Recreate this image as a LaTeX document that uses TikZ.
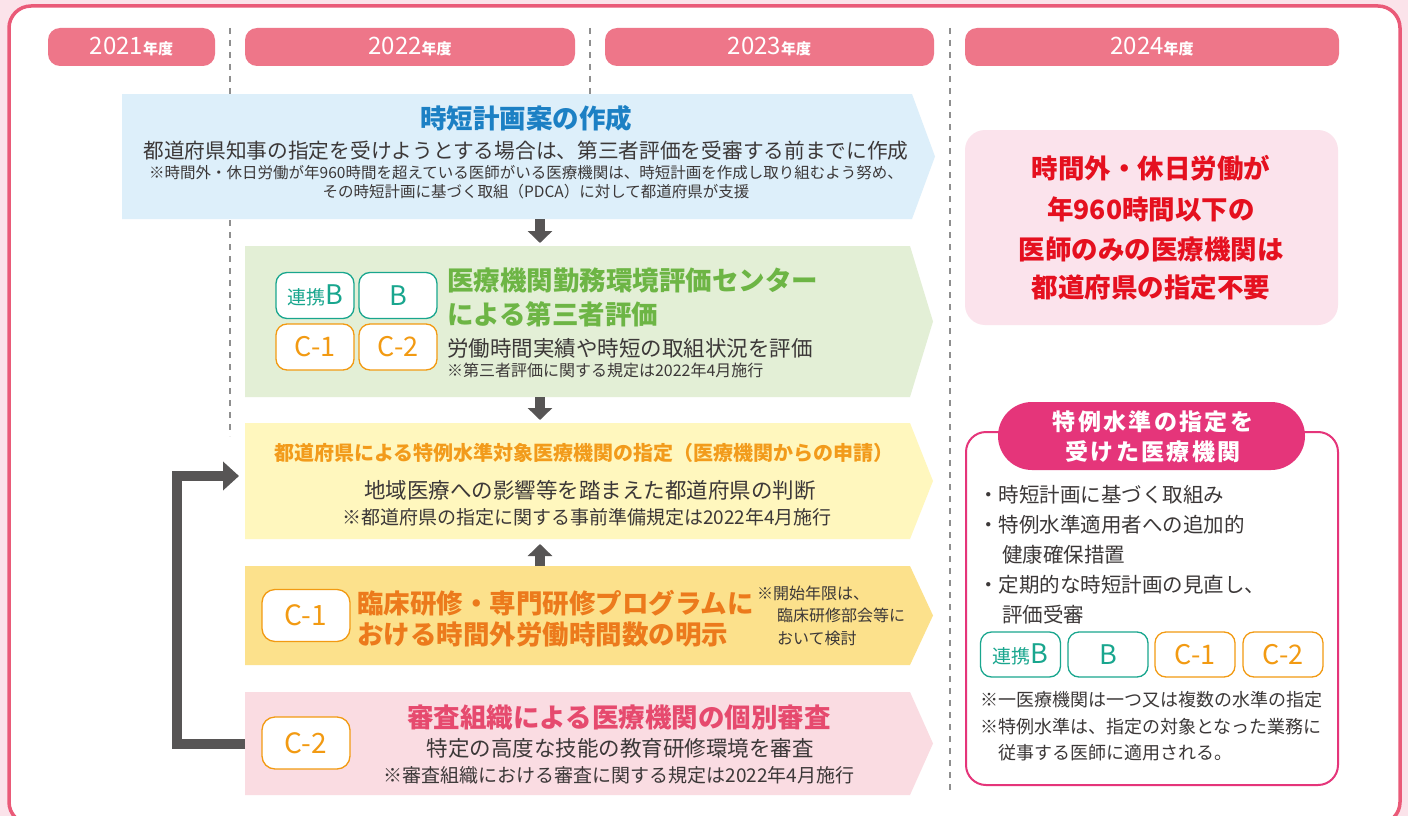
\documentclass[tikz,border=0pt]{standalone}
\usepackage{fontspec}
\setmainfont{Noto Sans CJK JP}
\usetikzlibrary{arrows.meta,calc}
\definecolor{bgpink}{HTML}{FBE3EA}
\definecolor{framepink}{HTML}{EA5A78}
\definecolor{hdrpink}{HTML}{EE7689}
\definecolor{dashgray}{HTML}{8F8F8F}
\definecolor{bluefill}{HTML}{DDEFFA}
\definecolor{bluetitle}{HTML}{1C80C4}
\definecolor{greenfill}{HTML}{E3EFD6}
\definecolor{greentitle}{HTML}{6DB545}
\definecolor{yellowfill}{HTML}{FFF7BE}
\definecolor{yellowtitle}{HTML}{F29B1B}
\definecolor{orangefill}{HTML}{FCE18C}
\definecolor{orangetitle}{HTML}{EC7A1C}
\definecolor{pinkfill}{HTML}{FADCE2}
\definecolor{pinktitle}{HTML}{E64A6E}
\definecolor{darktxt}{HTML}{3C3838}
\definecolor{tealc}{HTML}{19A68E}
\definecolor{orbadge}{HTML}{F29A12}
\definecolor{arrowgray}{HTML}{575555}
\definecolor{redtxt}{HTML}{E5101F}
\definecolor{rpinkfill}{HTML}{FBE3EC}
\definecolor{magentac}{HTML}{E5357A}
\newcommand\fs[1]{\fontsize{#1}{#1}\selectfont}
\newcommand\yr[1]{{\fs{24}#1}{\fs{15}\bfseries 年度}}
\tikzset{
  hdr/.style={fill=hdrpink, rounded corners=12pt, minimum height=38pt, text=white},
  dashline/.style={draw=dashgray, line width=1.5pt, dash pattern=on 6pt off 6pt},
  badge/.style={draw, fill=white, rounded corners=11pt, line width=1.3pt, minimum width=78pt, minimum height=46pt},
  tealbadge/.style={badge, draw=tealc, text=tealc},
  orbadge/.style={badge, draw=orbadge, text=orbadge},
  bigbadge/.style={orbadge, minimum width=88pt, minimum height=52pt, rounded corners=13pt},
  downarrow/.style={draw=arrowgray, line width=10pt, -{Triangle[width=24pt,length=12pt]}},
  larrow/.style={draw=arrowgray, line width=10pt, -{Triangle[width=28pt,length=16pt]}},
  dtxt/.style={text=darktxt},
}
\begin{document}
\begin{tikzpicture}[x=1pt,y=-1pt, every node/.style={inner sep=0pt, outer sep=0pt}]
\useasboundingbox (0,0) rectangle (1408,816);
\fill[bgpink] (0,0) rectangle (1408,816);
\draw[framepink, line width=3.5pt, fill=white, rounded corners=22pt] (9,6) rectangle (1400,824);

% dashed year separators
\draw[dashline] (230,28) -- (230,436);
\draw[dashline] (590,28) -- (590,95);
\draw[dashline] (950,28) -- (950,792);

% year headers
\node[hdr, minimum width=167pt] (h21) at (131.5,47) {\yr{2021}};
\node[hdr, minimum width=330pt] (h22) at (410,47) {\yr{2022}};
\node[hdr, minimum width=329pt] (h23) at (769.5,47) {\yr{2023}};
\node[hdr, minimum width=374pt] (h24) at (1152,47) {\yr{2024}};

% left column areas
\node[minimum width=790pt, minimum height=125pt] (blue) at (517,156.5) {};
\node[minimum width=665pt, minimum height=151pt] (green) at (577.5,321.5) {};
\node[minimum width=665pt, minimum height=116pt] (yellow) at (577.5,481) {};
\node[minimum width=665pt, minimum height=99pt] (orange) at (577.5,615.5) {};
\node[minimum width=665pt, minimum height=103pt] (pink) at (577.5,743.5) {};
\foreach \b/\c in {blue/bluefill, green/greenfill, yellow/yellowfill, orange/orangefill, pink/pinkfill}{
  \fill[\c] (\b.north west) -- (\b.north east) -- ($(\b.east)+(23,0)$) -- (\b.south east) -- (\b.south west) -- cycle;
}

% arrows
\coordinate (ax) at (540,0);
\draw[downarrow, shorten >=3pt] (blue.south -| ax) -- (green.north -| ax);
\draw[downarrow, shorten >=3pt] (green.south -| ax) -- (yellow.north -| ax);
\draw[downarrow, shorten >=5pt] (orange.north -| ax) -- (yellow.south -| ax);
\draw[larrow, shorten >=6pt] (pink.west) -- ++(-68,0) |- ([yshift=5pt]yellow.west);

% blue box text
\node[text=bluetitle, font=\fs{26.5}\bfseries] (bt1) at (526,118) {時短計画案の作成};
\node[dtxt, font=\fs{20.7}] (bt2) at (526,151) {都道府県知事の指定を受けようとする場合は、第三者評価を受審する前までに作成};
\node[dtxt, font=\fs{15.5}] (bt3) at (526,173) {※時間外・休日労働が年960時間を超えている医師がいる医療機関は、時短計画を作成し取り組むよう努め、};
\node[dtxt, font=\fs{15.5}] (bt4) at (536,192) {その時短計画に基づく取組（PDCA）に対して都道府県が支援};

% green box
\node[tealbadge] (gb1) at (315,295.5) {{\fs{19}連携}{\fs{27}B}};
\node[tealbadge] (gb2) at (398,295.5) {{\fs{27}B}};
\node[orbadge] (gb3) at (315,347) {{\fs{27}C-1}};
\node[orbadge] (gb4) at (398,347) {{\fs{27}C-2}};
\node[anchor=west, text=greentitle, font=\fs{26.5}\bfseries] (gt1) at (447,280) {医療機関勤務環境評価センター};
\node[anchor=west, text=greentitle, font=\fs{26.5}\bfseries] (gt2) at (447,314) {による第三者評価};
\node[anchor=west, dtxt, font=\fs{21.5}] (gt3) at (447,348) {労働時間実績や時短の取組状況を評価};
\node[anchor=west, dtxt, font=\fs{16}] (gt4) at (447,370) {※第三者評価に関する規定は2022年4月施行};

% yellow box
\node[text=yellowtitle, font=\fs{20}\bfseries] (yt1) at (584,453) {都道府県による特例水準対象医療機関の指定（医療機関からの申請）};
\node[dtxt, font=\fs{21.5}] (yt2) at (590,490) {地域医療への影響等を踏まえた都道府県の判断};
\node[dtxt, font=\fs{19}] (yt3) at (587,517) {※都道府県の指定に関する事前準備規定は2022年4月施行};

% orange box
\node[bigbadge] (ob) at (306,615.5) {{\fs{28}C-1}};
\node[anchor=west, text=orangetitle, font=\fs{26.5}\bfseries] (ot1) at (357,603) {臨床研修・専門研修プログラムに};
\node[anchor=west, text=orangetitle, font=\fs{26.5}\bfseries] (ot2) at (357,635) {おける時間外労働時間数の明示};
\node[anchor=west, dtxt, font=\fs{16}] (on1) at (757,593) {※開始年限は、};
\node[anchor=west, dtxt, font=\fs{16}] (on2) at (777,615) {臨床研修部会等に};
\node[anchor=west, dtxt, font=\fs{16}] (on3) at (777,638) {おいて検討};

% pink box
\node[bigbadge] (pb) at (306,743) {{\fs{28}C-2}};
\node[text=pinktitle, font=\fs{26.5}\bfseries] (pt1) at (619,718) {審査組織による医療機関の個別審査};
\node[dtxt, font=\fs{21.5}] (pt2) at (620,748) {特定の高度な技能の教育研修環境を審査};
\node[dtxt, font=\fs{19}] (pt3) at (619,775) {※審査組織における審査に関する規定は2022年4月施行};

% right: red note box
\node[fill=rpinkfill, rounded corners=20pt, minimum width=373pt, minimum height=195pt] (rbox) at (1151.5,227.5) {};
\node[text=redtxt, font=\fs{26.5}\bfseries] (r1) at (1151,168) {時間外・休日労働が};
\node[text=redtxt, font=\fs{26.5}\bfseries] (r2) at (1151,209) {年960時間以下の};
\node[text=redtxt, font=\fs{26.5}\bfseries] (r3) at (1151,249) {医師のみの医療機関は};
\node[text=redtxt, font=\fs{26.5}\bfseries] (r4) at (1151,288) {都道府県の指定不要};

% right: designated institutions box
\node[draw=magentac, line width=2pt, fill=white, rounded corners=20pt, minimum width=372pt, minimum height=353pt] (dbox) at (1152,608.5) {};
\node[fill=magentac, rounded corners=34pt, minimum width=307pt, minimum height=68pt] (pill) at (1151.5,436) {};
\node[text=white, font=\fs{23}\bfseries\addfontfeature{LetterSpace=10}] (pl1) at (1153,422) {特例水準の指定を};
\node[text=white, font=\fs{23}\bfseries\addfontfeature{LetterSpace=10}] (pl2) at (1153,452) {受けた医療機関};
\node[anchor=west, dtxt, font=\fs{20.5}] (d1) at (978,495) {・時短計画に基づく取組み};
\node[anchor=west, dtxt, font=\fs{20.5}] (d2) at (978,525) {・特例水準適用者への追加的};
\node[anchor=west, dtxt, font=\fs{20.5}] (d3) at (1002,555) {健康確保措置};
\node[anchor=west, dtxt, font=\fs{20.5}] (d4) at (978,585) {・定期的な時短計画の見直し、};
\node[anchor=west, dtxt, font=\fs{20.5}] (d5) at (1002,615) {評価受審};
\node[tealbadge, minimum width=80pt, minimum height=45pt] (db1) at (1020.5,654.5) {{\fs{19}連携}{\fs{27}B}};
\node[tealbadge, minimum width=80pt, minimum height=45pt] (db2) at (1108,654.5) {{\fs{27}B}};
\node[orbadge, minimum width=80pt, minimum height=45pt] (db3) at (1195,654.5) {{\fs{27}C-1}};
\node[orbadge, minimum width=80pt, minimum height=45pt] (db4) at (1283,654.5) {{\fs{27}C-2}};
\node[anchor=west, dtxt, font=\fs{18}] (n1) at (980,700) {※一医療機関は一つ又は複数の水準の指定};
\node[anchor=west, dtxt, font=\fs{18}] (n2) at (980,727) {※特例水準は、指定の対象となった業務に};
\node[anchor=west, dtxt, font=\fs{18}] (n3) at (998,753) {従事する医師に適用される。};
\end{tikzpicture}
\end{document}
